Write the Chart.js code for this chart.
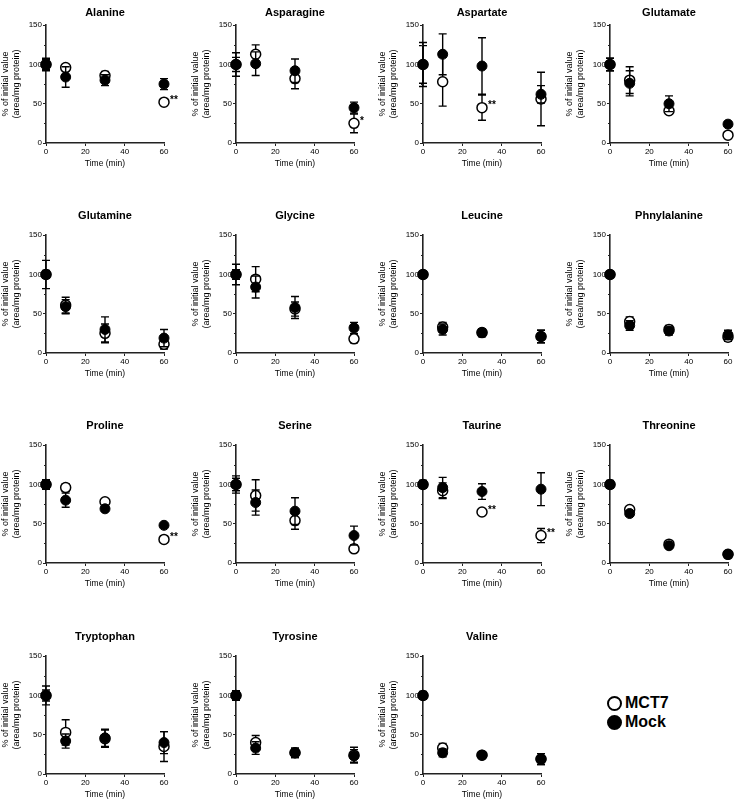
<!DOCTYPE html>
<html>
<head>
<meta charset="utf-8">
<script src="https://cdn.jsdelivr.net/npm/chart.js@4.4.1/dist/chart.umd.min.js"></script>
<style>
  html, body { margin: 0; padding: 0; background: #fff; overflow: hidden; }
  #wrap { position: relative; width: 738px; height: 807px; }
  #wrap canvas { position: absolute; }
  .legend-row { position: absolute; left: 607px; height: 18px; display: flex; align-items: center;
    font: bold 16px 'Liberation Sans', Arial, sans-serif; color: #000; }
  .legend-dot { width: 11px; height: 11px; border-radius: 50%; border: 2px solid #000; margin-right: 3px; }
</style>
</head>
<body>
<div id="wrap">
  <div class="legend-row" style="top:694px"><span class="legend-dot" style="background:#fff"></span>MCT7</div>
  <div class="legend-row" style="top:713px"><span class="legend-dot" style="background:#000"></span>Mock</div>
</div>
<script>
/* ---------- data ---------- */
const timePoints = [0, 10, 30, 60];

const panelNames = [
  'Alanine', 'Asparagine', 'Aspartate', 'Glutamate',
  'Glutamine', 'Glycine', 'Leucine', 'Phnylalanine',
  'Proline', 'Serine', 'Taurine', 'Threonine',
  'Tryptophan', 'Tyrosine', 'Valine'
];

// % of initial value, one row per panel, columns follow timePoints
const mct7Means = [
  [100, 96, 86, 52], [100, 113, 82, 25], [100, 78, 45, 56], [100, 80, 41, 10],
  [100, 61, 25, 11], [100, 94, 56, 18], [100, 33, 26, 21], [100, 40, 30, 20],
  [100, 96, 78, 30], [100, 86, 54, 18], [100, 92, 65, 35], [100, 68, 24, 11],
  [100, 53, 45, 35], [100, 40, 27, 24], [100, 33, 24, 19]
];
const mct7Errors = [
  [6, 3, 5, 3], [15, 12, 13, 12], [28, 31, 16, 34], [8, 17, 3, 2],
  [5, 10, 12, 6], [13, 16, 9, 5], [4, 6, 5, 8], [4, 6, 5, 5],
  [6, 5, 3, 2], [11, 20, 11, 4], [5, 10, 2, 9], [5, 3, 2, 1],
  [12, 16, 11, 19], [6, 9, 6, 10], [5, 6, 2, 7]
];
const mockMeans = [
  [100, 84, 80, 75], [100, 101, 92, 45], [100, 113, 98, 62], [100, 76, 50, 24],
  [100, 59, 30, 19], [100, 84, 58, 32], [100, 30, 26, 21], [100, 35, 28, 23],
  [100, 80, 69, 48], [100, 77, 66, 35], [100, 96, 91, 94], [100, 63, 22, 11],
  [100, 42, 46, 40], [100, 33, 27, 23], [100, 27, 24, 19]
];
const mockErrors = [
  [8, 13, 7, 7], [9, 15, 15, 7], [24, 26, 36, 11], [8, 16, 10, 2],
  [18, 9, 16, 11], [6, 14, 14, 7], [4, 7, 5, 8], [4, 6, 5, 6],
  [5, 9, 3, 2], [8, 16, 17, 12], [5, 13, 10, 21], [4, 3, 2, 1],
  [7, 9, 11, 14], [5, 8, 6, 8], [4, 5, 2, 7]
];
// significance marks next to the MCT7 points
const mct7Stars = [
  ['', '', '', '**'], ['', '', '', '*'], ['', '', '**', ''], ['', '', '', ''],
  ['', '', '', ''], ['', '', '', ''], ['', '', '', ''], ['', '', '', ''],
  ['', '', '', '**'], ['', '', '', ''], ['', '', '**', '**'], ['', '', '', ''],
  ['', '', '', ''], ['', '', '', ''], ['', '', '', '']
];

const yTicks = [0, 50, 100, 150];
const yMinorTicks = [25, 75, 125];
const xTicks = [0, 20, 40, 60];

/* ---------- layout ---------- */
const FONT = "'Liberation Sans', Arial, sans-serif";
const colLeft = [0, 190, 377, 564];
const rowTop = [0, 205, 415, 626];
const plotTop = [25, 30, 30, 30];
const titlePad = [{ top: 6, bottom: 6 }, { top: 4, bottom: 13 }, { top: 4, bottom: 13 }, { top: 4, bottom: 13 }];
const AXIS_W = 46, PLOT_W = 118, PLOT_H = 118, XAXIS_H = 32, PAD_R = 14, PAD_B = 4;

/* ---------- plugins ---------- */
const errorBars = {
  id: 'errorBars',
  beforeDatasetDraw(chart, args) {
    const ds = chart.data.datasets[args.index];
    if (!ds.errors) return;
    const ctx = chart.ctx;
    const y = chart.scales.y;
    ctx.save();
    ctx.strokeStyle = '#000';
    ctx.lineWidth = 1.4;
    args.meta.data.forEach((pt, i) => {
      const v = ds.data[i].y, e = ds.errors[i];
      if (!e) return;
      const yt = y.getPixelForValue(v + e), yb = y.getPixelForValue(v - e);
      ctx.beginPath();
      ctx.moveTo(pt.x, yt); ctx.lineTo(pt.x, yb);
      ctx.moveTo(pt.x - 4, yt); ctx.lineTo(pt.x + 4, yt);
      ctx.moveTo(pt.x - 4, yb); ctx.lineTo(pt.x + 4, yb);
      ctx.stroke();
    });
    ctx.restore();
  }
};

const starMarks = {
  id: 'starMarks',
  afterDatasetsDraw(chart) {
    const ds = chart.data.datasets[0];
    if (!ds.stars) return;
    const ctx = chart.ctx;
    const meta = chart.getDatasetMeta(0);
    ctx.save();
    ctx.fillStyle = '#000';
    ctx.font = `bold 10px ${FONT}`;
    ctx.textAlign = 'left';
    ctx.textBaseline = 'middle';
    meta.data.forEach((pt, i) => {
      if (ds.stars[i]) ctx.fillText(ds.stars[i], pt.x + 6, pt.y - 2);
    });
    ctx.restore();
  }
};

const minorTicks = {
  id: 'minorTicks',
  afterDraw(chart) {
    const ctx = chart.ctx;
    const y = chart.scales.y;
    const x0 = chart.chartArea.left;
    ctx.save();
    ctx.strokeStyle = '#222';
    ctx.lineWidth = 1;
    yMinorTicks.forEach(v => {
      const py = Math.round(y.getPixelForValue(v)) + 0.5;
      ctx.beginPath(); ctx.moveTo(x0 - 2, py); ctx.lineTo(x0, py); ctx.stroke();
    });
    ctx.restore();
  }
};

/* ---------- panels ---------- */
const wrap = document.getElementById('wrap');

panelNames.forEach((name, p) => {
  const row = Math.floor(p / 4), col = p % 4;
  const canvas = document.createElement('canvas');
  const w = AXIS_W + PLOT_W + PAD_R;
  const h = plotTop[row] + PLOT_H + XAXIS_H + PAD_B;
  canvas.width = w; canvas.height = h;
  canvas.style.left = colLeft[col] + 'px';
  canvas.style.top = rowTop[row] + 'px';
  canvas.style.width = w + 'px'; canvas.style.height = h + 'px';
  wrap.appendChild(canvas);

  const mct7 = {
    label: 'MCT7',
    data: timePoints.map((t, i) => ({ x: t, y: mct7Means[p][i] })),
    errors: mct7Errors[p],
    stars: mct7Stars[p],
    order: 1,
    pointRadius: 5,
    pointBackgroundColor: '#fff',
    pointBorderColor: '#000',
    pointBorderWidth: 1.5,
    showLine: false,
    clip: false
  };
  const mock = {
    label: 'Mock',
    data: timePoints.map((t, i) => ({ x: t, y: mockMeans[p][i] })),
    errors: mockErrors[p],
    order: 0,
    pointRadius: 5,
    pointBackgroundColor: '#000',
    pointBorderColor: '#000',
    pointBorderWidth: 1,
    showLine: false,
    clip: false
  };

  new Chart(canvas.getContext('2d'), {
    type: 'scatter',
    data: { datasets: [mct7, mock] },
    plugins: [errorBars, starMarks, minorTicks],
    options: {
      responsive: false,
      animation: false,
      devicePixelRatio: 1,
      events: [],
      layout: { padding: { top: 0, left: 0, right: PAD_R, bottom: PAD_B } },
      plugins: {
        legend: { display: false },
        tooltip: { enabled: false },
        title: {
          display: true,
          fullSize: false,
          text: name,
          color: '#000',
          font: { family: FONT, size: 11, weight: 'bold' },
          padding: titlePad[row]
        }
      },
      scales: {
        x: {
          type: 'linear',
          min: 0, max: 60,
          afterBuildTicks: s => { s.ticks = xTicks.map(v => ({ value: v })); },
          afterFit: s => { s.height = XAXIS_H; },
          ticks: { color: '#000', font: { family: FONT, size: 8 }, padding: 1, maxRotation: 0 },
          grid: { display: true, drawOnChartArea: false, drawTicks: true, tickLength: 3, tickColor: '#222', tickWidth: 1 },
          border: { display: true, color: '#222', width: 1.6 },
          title: { display: true, text: 'Time (min)', color: '#000', font: { family: FONT, size: 8.5 }, padding: { top: 0, bottom: 6 } }
        },
        y: {
          min: 0, max: 150,
          afterBuildTicks: s => { s.ticks = yTicks.map(v => ({ value: v })); },
          afterFit: s => { s.width = AXIS_W; },
          ticks: { color: '#000', font: { family: FONT, size: 8 }, padding: 1 },
          grid: { display: true, drawOnChartArea: false, drawTicks: true, tickLength: 3, tickColor: '#222', tickWidth: 1 },
          border: { display: true, color: '#222', width: 1.6 },
          title: {
            display: true,
            text: ['% of initial value', '(area/mg protein)'],
            color: '#000',
            font: { family: FONT, size: 9 },
            padding: { top: 0, bottom: 0 }
          }
        }
      }
    }
  });
});
</script>
</body>
</html>
